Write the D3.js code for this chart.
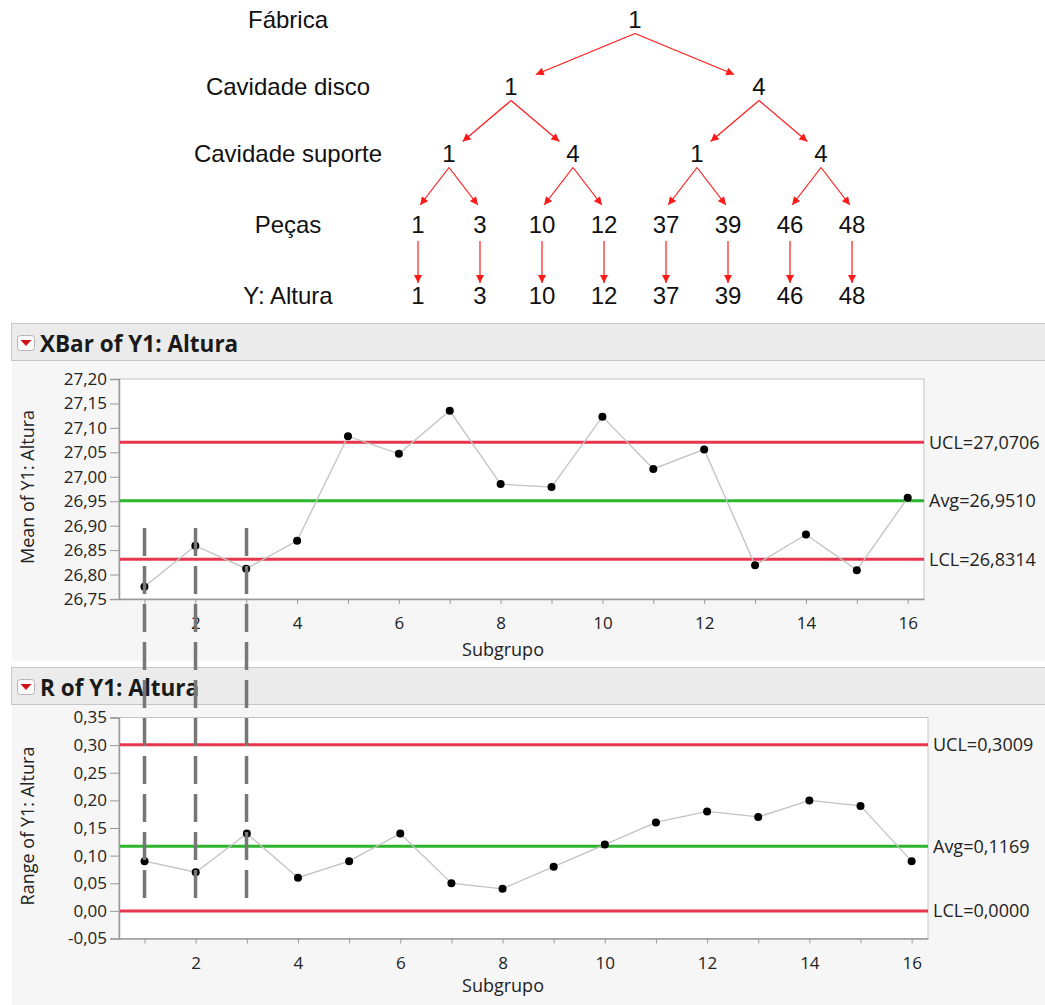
<!DOCTYPE html>
<html lang="pt">
  <head>
    <meta charset="utf-8">
    <title>XBar e R de Y1: Altura</title>
    <style>
      body { margin: 0; background: #ffffff; }
      .tree-text { font-family: "Liberation Sans", Arial, sans-serif; font-size: 24px; fill: #111; }
      .axis text { font-family: "Open Sans", "Noto Sans", sans-serif; font-size: 17px; fill: #222; }
      .axis path, .axis line { stroke: #9a9a9a; }
      .label-axis { font-family: "Open Sans", "Noto Sans", sans-serif; font-size: 18px; fill: #222; }
      .label-limit { font-family: "Open Sans", "Noto Sans", sans-serif; font-size: 18px; fill: #222; }
      .panel-title { font-family: "Open Sans", "Noto Sans", sans-serif; font-size: 22.5px; font-weight: bold; fill: #1a1a1a; }
    </style>
  </head>
  <body>
    <div id="chart"></div>

    <script src="https://d3js.org/d3.v7.min.js"></script>
    <script>
// ---- data ----
// tree of the sampling plan
const levelNames = ["Fábrica", "Cavidade disco", "Cavidade suporte", "Peças", "Y: Altura"];
const fabrica = "1";
const cavidadeDisco = ["1", "4"];
const cavidadeSuporte = ["1", "4"];
const pecas = [["1", "3"], ["10", "12"], ["37", "39"], ["46", "48"]];

// control charts
const subgroups = [1, 2, 3, 4, 5, 6, 7, 8, 9, 10, 11, 12, 13, 14, 15, 16];
const xTickLabels = [2, 4, 6, 8, 10, 12, 14, 16];
const xbarMeans = [26.775, 26.859, 26.812, 26.869, 27.083, 27.047, 27.135, 26.985,
                   26.979, 27.123, 27.016, 27.056, 26.819, 26.882, 26.809, 26.957];
const rangeValues = [0.09, 0.07, 0.14, 0.06, 0.09, 0.14, 0.05, 0.04,
                     0.08, 0.12, 0.16, 0.18, 0.17, 0.20, 0.19, 0.09];
const limitNames = ["UCL", "Avg", "LCL"];
const xbarLimits = [27.0706, 26.9510, 26.8314];
const rangeLimits = [0.3009, 0.1169, 0.0000];
const xbarTicks = [26.75, 26.80, 26.85, 26.90, 26.95, 27.00, 27.05, 27.10, 27.15, 27.20];
const rangeTicks = [-0.05, 0.00, 0.05, 0.10, 0.15, 0.20, 0.25, 0.30, 0.35];
// dashed markers over subgroups 1-3 (from xbar value down to range value)
const markedSubgroups = [1, 2, 3];
const markTop = 26.895;
const markBottom = 0.02;

// ---- layout ----
var W = 1045, H = 1005;
var svg = d3.select("#chart").append("svg")
            .attr("width", W)
            .attr("height", H);

var ptBR = d3.formatLocale({decimal: ",", thousands: ".", grouping: [3], currency: ["", ""], minus: "-"});
var tickFmt = ptBR.format(".2f");
var limitFmt = ptBR.format(".4f");

// ---- tree diagram ----
var levelY = [19.5, 86.5, 153.5, 224.5, 295.5];   // text centre per depth
var startGap = [14, 14, 14, 16.5];                 // arrow start below parent
var endGap = [13, 12, 12, 19.5, 12.5];             // arrow tip above child
var slant = [0, 0.2, 0.22, 0.07, 0];               // pulls tip towards parent

var treeData = {
  name: fabrica,
  children: cavidadeDisco.map((d, i) => ({
    name: d,
    children: cavidadeSuporte.map((s, j) => ({
      name: s,
      children: pecas[i * 2 + j].map(p => ({ name: p, children: [{ name: p }] }))
    }))
  }))
};

var root = d3.hierarchy(treeData);
d3.tree().nodeSize([62, 1]).separation(() => 1)(root);
var cx = 635;

svg.append("defs").append("marker")
   .attr("id", "arrow")
   .attr("markerUnits", "userSpaceOnUse")
   .attr("viewBox", "0 0 10 10")
   .attr("refX", 10).attr("refY", 5)
   .attr("markerWidth", 9).attr("markerHeight", 8)
   .attr("orient", "auto")
   .append("path")
   .attr("d", "M0,0L10,5L0,10Z")
   .attr("fill", "#ff1a1a");

var tree = svg.append("g");

tree.selectAll("line")
    .data(root.links())
    .join("line")
    .attr("x1", d => cx + d.source.x)
    .attr("y1", d => levelY[d.source.depth] + startGap[d.source.depth])
    .attr("x2", d => cx + d.target.x + (d.source.x - d.target.x) * slant[d.target.depth])
    .attr("y2", d => levelY[d.target.depth] - endGap[d.target.depth])
    .attr("stroke", "#ff1a1a")
    .attr("stroke-width", 1.2)
    .attr("marker-end", "url(#arrow)");

tree.selectAll("text.node")
    .data(root.descendants())
    .join("text")
    .attr("class", "tree-text node")
    .attr("x", d => cx + d.x)
    .attr("y", d => levelY[d.depth])
    .attr("dy", "0.36em")
    .attr("text-anchor", "middle")
    .text(d => d.data.name);

tree.selectAll("text.level")
    .data(levelNames)
    .join("text")
    .attr("class", "tree-text level")
    .attr("x", 288)
    .attr("y", (d, i) => levelY[i])
    .attr("dy", "0.36em")
    .attr("text-anchor", "middle")
    .text(d => d);

// ---- control chart panels ----
function drawPanel(p) {
  var g = svg.append("g");

  // grey panel + header bar
  g.append("rect")
   .attr("x", 12).attr("y", p.top)
   .attr("width", W - 12).attr("height", p.bottom - p.top)
   .attr("fill", "#f6f6f6");
  g.append("rect")
   .attr("x", 11.5).attr("y", p.top + 0.5)
   .attr("width", W - 11).attr("height", 37)
   .attr("fill", "#ebebeb")
   .attr("stroke", "#c6c6c6");

  // red dropdown icon
  g.append("rect")
   .attr("x", 17.5).attr("y", p.top + 12.5)
   .attr("width", 17).attr("height", 15).attr("rx", 3)
   .attr("fill", "#fafafa").attr("stroke", "#b5b5b5");
  g.append("path")
   .attr("d", "M" + 20.5 + "," + (p.top + 17) + "h11l-5.5,6z")
   .attr("fill", "#d0101a");

  g.append("text")
   .attr("class", "panel-title")
   .attr("x", 40).attr("y", p.top + 29)
   .text(p.title);

  var x = d3.scaleLinear().domain([0.5, 16.32]).range([119, p.right]);
  var y = d3.scaleLinear().domain(p.domain).range([p.plotBottom, p.plotTop]);

  // plot area
  g.append("rect")
   .attr("x", 119).attr("y", p.plotTop)
   .attr("width", p.right - 119).attr("height", p.plotBottom - p.plotTop)
   .attr("fill", "#ffffff")
   .attr("stroke", "#c4c4c4");

  // axes
  g.append("g")
   .attr("class", "axis")
   .attr("transform", "translate(119,0)")
   .call(d3.axisLeft(y).tickValues(p.ticks).tickSize(9).tickPadding(3).tickFormat(tickFmt))
   .call(a => a.select(".domain").attr("stroke", "#a0a0a0").attr("stroke-width", 1.5));

  g.append("g")
   .attr("class", "axis")
   .attr("transform", "translate(0," + p.plotBottom + ")")
   .call(d3.axisBottom(x).tickValues(subgroups).tickSize(5).tickSizeOuter(0).tickPadding(13)
           .tickFormat(d => xTickLabels.includes(d) ? d : ""))
   .call(a => a.select(".domain").attr("stroke", "#a0a0a0").attr("stroke-width", 1.5));

  // control limits
  g.append("g")
   .selectAll("line")
   .data(p.limits)
   .join("line")
   .attr("x1", 120).attr("x2", p.right)
   .attr("y1", d => y(d)).attr("y2", d => y(d))
   .attr("stroke", (d, i) => i === 1 ? "#2cb52c" : "#e8354e")
   .attr("stroke-width", 3);

  g.append("g")
   .selectAll("text")
   .data(p.limits)
   .join("text")
   .attr("class", "label-limit")
   .attr("x", p.right + 5)
   .attr("y", d => y(d))
   .attr("dy", "0.35em")
   .text((d, i) => limitNames[i] + "=" + limitFmt(d));

  // data line + points
  g.append("path")
   .datum(p.values)
   .attr("fill", "none")
   .attr("stroke", "#c2c2c2")
   .attr("stroke-width", 1.3)
   .attr("d", d3.line().x((d, i) => x(subgroups[i])).y(d => y(d)));

  g.append("g")
   .selectAll("circle")
   .data(p.values)
   .join("circle")
   .attr("cx", (d, i) => x(subgroups[i]))
   .attr("cy", d => y(d))
   .attr("r", 4)
   .attr("fill", "#000");

  // axis titles
  g.append("text")
   .attr("class", "label-axis")
   .attr("x", 503)
   .attr("y", p.plotBottom + p.subY)
   .attr("text-anchor", "middle")
   .text("Subgrupo");

  g.append("text")
   .attr("class", "label-axis")
   .attr("transform", "rotate(-90)")
   .attr("x", -(p.plotTop + p.plotBottom) / 2 + 2)
   .attr("y", 34)
   .attr("text-anchor", "middle")
   .text(p.yTitle);

  return { x: x, y: y };
}

var xbar = drawPanel({
  top: 323, bottom: 661, plotTop: 379, plotBottom: 599, right: 924,
  title: "XBar of Y1: Altura", yTitle: "Mean of Y1: Altura",
  domain: [26.75, 27.20], ticks: xbarTicks, limits: xbarLimits, values: xbarMeans, subY: 57
});

var rchart = drawPanel({
  top: 667, bottom: 1005, plotTop: 717.5, plotBottom: 938.5, right: 928,
  title: "R of Y1: Altura", yTitle: "Range of Y1: Altura",
  domain: [-0.05, 0.35], ticks: rangeTicks, limits: rangeLimits, values: rangeValues, subY: 53
});

// dashed markers linking both charts
svg.append("g")
   .selectAll("line")
   .data(markedSubgroups)
   .join("line")
   .attr("x1", d => (xbar.x(d) + rchart.x(d)) / 2)
   .attr("x2", d => (xbar.x(d) + rchart.x(d)) / 2)
   .attr("y1", xbar.y(markTop))
   .attr("y2", rchart.y(markBottom))
   .attr("stroke", "#777777")
   .attr("stroke-width", 3.5)
   .attr("stroke-dasharray", "28,10");
    </script>
  </body>
</html>
